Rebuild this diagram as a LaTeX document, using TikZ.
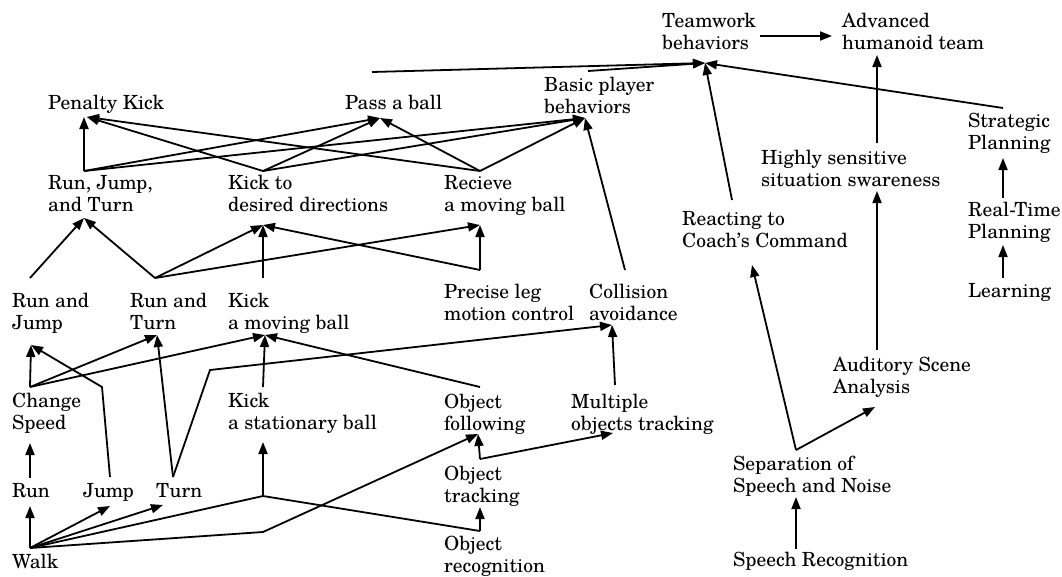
\documentclass[tikz,border=0pt]{standalone}
\usepackage{fontspec}
\setmainfont{TeX Gyre Schola}
\usetikzlibrary{arrows.meta}
\begin{document}
\begin{tikzpicture}[x=1pt,y=-1pt,
  lbl/.style={font=\fontsize{19.5}{22}\selectfont, align=left, inner sep=0pt, anchor=north west},
  conn/.style={line width=1.8pt, line join=miter},
  arr/.style={conn, -{Triangle[length=12pt,width=9pt]}}]
\useasboundingbox (0,0) rectangle (1062,576);
% ---- nodes ----
\node[lbl] (team) at (662,13) {Teamwork\\behaviors};
\node[lbl] (adv) at (842,13) {Advanced\\humanoid team};
\node[lbl] (pk) at (48,95) {Penalty Kick};
\node[lbl] (pass) at (345,95) {Pass a ball};
\node[lbl] (basic) at (544,77) {Basic player\\behaviors};
\node[lbl] (strat) at (968,113) {Strategic\\Planning};
\node[lbl] (high) at (761,150) {Highly sensitive\\situation swareness};
\node[lbl] (rjt) at (48,175) {Run, Jump,\\and Turn};
\node[lbl] (kt) at (228,175) {Kick to\\desired directions};
\node[lbl] (rec) at (444,175) {Recieve\\a moving ball};
\node[lbl] (react) at (682,211) {Reacting to\\Coach's Command};
\node[lbl] (real) at (968,202) {Real-Time\\Planning};
\node[lbl] (learn) at (968,283) {Learning};
\node[lbl] (rj) at (12,293) {Run and\\Jump};
\node[lbl] (rt) at (130,293) {Run and\\Turn};
\node[lbl] (km) at (228,293) {Kick\\a moving ball};
\node[lbl] (prec) at (444,284) {Precise leg\\motion control};
\node[lbl] (coll) at (589,284) {Collision\\avoidance};
\node[lbl] (aud) at (833,357) {Auditory Scene\\Analysis};
\node[lbl] (cs) at (12,393) {Change\\Speed};
\node[lbl] (ks) at (228,393) {Kick\\a stationary ball};
\node[lbl] (of) at (444,394) {Object\\following};
\node[lbl] (mot) at (571,394) {Multiple\\objects tracking};
\node[lbl] (run) at (12,483) {Run};
\node[lbl] (jump) at (83,483) {Jump};
\node[lbl] (turn) at (156,483) {Turn};
\node[lbl] (ot) at (444,466) {Object\\tracking};
\node[lbl] (sep) at (733,456) {Separation of\\Speech and Noise};
\node[lbl] (walk) at (12,554) {Walk};
\node[lbl] (orec) at (444,536) {Object\\recognition};
\node[lbl] (speech) at (733,552) {Speech Recognition};
% ---- ports ----
\coordinate (pk-in) at (87,117);
\coordinate (pk-in2) at (84,117);
\coordinate (pass-in) at (380,118);
\coordinate (pass-out) at (372,72);
\coordinate (basic-in) at (585,118);
\coordinate (basic-out) at (588,71);
\coordinate (team-in) at (705,63);
\coordinate (team-out) at (760,36);
\coordinate (adv-in) at (832,36);
\coordinate (adv-in2) at (877,55);
\coordinate (high-out) at (877,143);
\coordinate (high-in) at (877,191);
\coordinate (strat-out) at (1003,108);
\coordinate (strat-in) at (1003,158);
\coordinate (real-out) at (1003,198);
\coordinate (real-in) at (1003,245);
\coordinate (learn-out) at (1003,278);
\coordinate (react-out) at (732,200);
\coordinate (react-in) at (752,265);
\coordinate (aud-out) at (877,350);
\coordinate (aud-in) at (875,407);
\coordinate (sep-out) at (796,450);
\coordinate (sep-in) at (796,497);
\coordinate (speech-out) at (796,549);
\coordinate (rjt-out) at (84,171);
\coordinate (rjt-in) at (84,218);
\coordinate (kt-out) at (263,171);
\coordinate (kt-in) at (263,225);
\coordinate (rec-out) at (480,171);
\coordinate (rec-in) at (480,225);
\coordinate (rj-out) at (30,278);
\coordinate (rj-in) at (31,345);
\coordinate (rt-out) at (155,278);
\coordinate (rt-in) at (157,335);
\coordinate (km-out) at (263,278);
\coordinate (km-in) at (265,335);
\coordinate (prec-out) at (480,270);
\coordinate (coll-out) at (625,270);
\coordinate (coll-in) at (612,325);
\coordinate (cs-out) at (30,387);
\coordinate (cs-in) at (30,443);
\coordinate (ks-out) at (263,387);
\coordinate (ks-in) at (263,442);
\coordinate (of-out) at (480,387);
\coordinate (of-in) at (478,434);
\coordinate (mot-out) at (615,385);
\coordinate (mot-in) at (613,433);
\coordinate (ot-out) at (480,459);
\coordinate (ot-in) at (480,507);
\coordinate (run-out) at (30,478);
\coordinate (run-in) at (30,506);
\coordinate (jump-out) at (110,477);
\coordinate (jump-in) at (110,506);
\coordinate (turn-out) at (173,477);
\coordinate (turn-in) at (163,505);
\coordinate (walk-out) at (30,548);
\coordinate (orec-out) at (480,531);
\coordinate (j1) at (263,496);
\coordinate (j2) at (263,532);
\coordinate (jb) at (102,387);
\coordinate (tb) at (210,370);
% ---- connectors ----
\draw[arr] (rjt-out) -- (pk-in2);
\draw[arr] (rjt-out) -- (pass-in);
\draw[arr] (rjt-out) -- (basic-in);
\draw[arr] (kt-out) -- (pk-in);
\draw[arr] (kt-out) -- (pass-in);
\draw[arr] (kt-out) -- (basic-in);
\draw[arr] (rec-out) -- (pk-in);
\draw[arr] (rec-out) -- (pass-in);
\draw[arr] (rec-out) -- (basic-in);
\draw[arr] (coll-out) -- (basic-in);
\draw[arr] (pass-out) -- (team-in);
\draw[arr] (basic-out) -- (team-in);
\draw[arr] (team-out) -- (adv-in);
\draw[arr] (high-out) -- (adv-in2);
\draw[arr] (strat-out) -- (team-in);
\draw[arr] (react-out) -- (team-in);
\draw[arr] (real-out) -- (strat-in);
\draw[arr] (learn-out) -- (real-in);
\draw[arr] (aud-out) -- (high-in);
\draw[arr] (sep-out) -- (react-in);
\draw[arr] (sep-out) -- (aud-in);
\draw[arr] (speech-out) -- (sep-in);
\draw[arr] (rj-out) -- (rjt-in);
\draw[arr] (rt-out) -- (rjt-in);
\draw[arr] (rt-out) -- (kt-in);
\draw[arr] (rt-out) -- (rec-in);
\draw[arr] (km-out) -- (kt-in);
\draw[arr] (prec-out) -- (kt-in);
\draw[arr] (prec-out) -- (rec-in);
\draw[arr] (cs-out) -- (rj-in);
\draw[arr] (cs-out) -- (rt-in);
\draw[arr] (cs-out) -- (km-in);
\draw[arr] (jump-out) -- (jb) -- (rj-in);
\draw[arr] (turn-out) -- (rt-in);
\draw[arr] (turn-out) -- (tb) -- (coll-in);
\draw[arr] (ks-out) -- (km-in);
\draw[arr] (of-out) -- (km-in);
\draw[arr] (mot-out) -- (coll-in);
\draw[arr] (run-out) -- (cs-in);
\draw[arr] (walk-out) -- (run-in);
\draw[arr] (walk-out) -- (jump-in);
\draw[arr] (walk-out) -- (turn-in);
\draw[arr] (walk-out) -- (j1) -- (ks-in);
\draw[conn] (orec-out) -- (j1);
\draw[arr] (walk-out) -- (j2) -- (of-in);
\draw[arr] (orec-out) -- (ot-in);
\draw[arr] (ot-out) -- (of-in);
\draw[arr] (ot-out) -- (mot-in);
\end{tikzpicture}
\end{document}
